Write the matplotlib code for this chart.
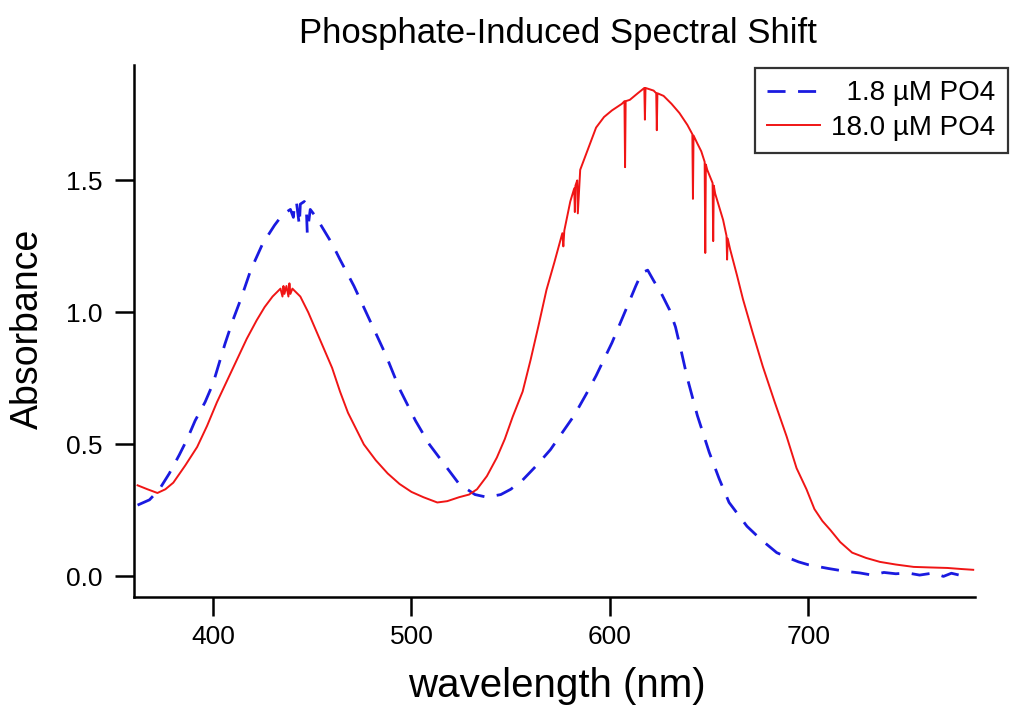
import matplotlib
matplotlib.use("Agg")
import matplotlib.pyplot as plt

# ---- data ----
wl_low = [362, 368, 373, 378, 383, 387, 391, 396, 400, 406, 410, 414, 419, 425,
          431, 435, 439, 440.5, 441, 442, 443.5, 444, 446, 447, 447.5, 449, 452,
          456, 460, 464, 471, 479, 487, 494, 502, 509, 517, 524, 532, 538, 545,
          550, 556, 563, 570, 576, 582, 588, 593, 601, 608, 613, 616, 619, 622,
          626, 630, 633, 636, 639, 644, 650, 655, 660, 665, 669, 676, 684, 690,
          695, 700, 710, 718, 726, 732, 738, 744, 750, 756, 763, 768, 772, 776,
          780]
abs_low = [0.27, 0.29, 0.33, 0.39, 0.46, 0.52, 0.59, 0.66, 0.73, 0.88, 0.97,
           1.05, 1.16, 1.26, 1.33, 1.37, 1.39, 1.36, 1.41, 1.42, 1.33, 1.41,
           1.42, 1.40, 1.30, 1.39, 1.36, 1.31, 1.26, 1.20, 1.10, 0.97, 0.84,
           0.71, 0.59, 0.50, 0.42, 0.35, 0.31, 0.30, 0.31, 0.33, 0.365, 0.42,
           0.48, 0.545, 0.61, 0.69, 0.76, 0.885, 1.01, 1.10, 1.15, 1.16, 1.12,
           1.07, 1.01, 0.945, 0.85, 0.75, 0.61, 0.47, 0.37, 0.28, 0.23, 0.19,
           0.14, 0.09, 0.07, 0.055, 0.044, 0.03, 0.02, 0.013, 0.005, 0.015,
           0.01, 0.013, 0.005, 0.013, 0.0, 0.012, 0.005, 0.01]

wl_high = [362, 367, 372, 376, 380, 386, 392, 397, 402, 407, 412, 417, 422, 426,
           430, 434, 435, 435.5, 436, 437, 438, 438.5, 439, 440, 444, 448, 452,
           456, 460, 464, 468, 472, 476, 482, 488, 494, 500, 506, 513, 518, 524,
           529, 533, 538, 543, 547, 551, 556, 560, 564, 568, 572, 576, 576.5,
           577, 580, 582, 582.3, 582.6, 583.5, 583.8, 585, 589, 593, 597, 601,
           606, 607.3, 607.6, 607.9, 610, 614, 617.3, 617.6, 617.9, 620, 622,
           623.3, 623.6, 623.9, 627, 631, 635, 639, 641.5, 641.8, 642.1, 644,
           646, 647.7, 648, 648.3, 649, 651.7, 652, 652.3, 653, 657, 658.7, 659,
           659.3, 660.5, 664, 667, 672, 677, 683, 689, 694, 699, 703, 707, 711,
           716, 722, 729, 736, 744, 753, 761, 770, 777, 783]
abs_high = [0.345, 0.33, 0.316, 0.33, 0.355, 0.42, 0.49, 0.57, 0.66, 0.74,
            0.82, 0.90, 0.97, 1.02, 1.06, 1.09, 1.06, 1.10, 1.07, 1.10, 1.06,
            1.11, 1.07, 1.09, 1.06, 1.00, 0.93, 0.86, 0.79, 0.70, 0.62, 0.56,
            0.50, 0.44, 0.39, 0.35, 0.32, 0.30, 0.28, 0.285, 0.30, 0.31, 0.33,
            0.38, 0.45, 0.52, 0.605, 0.70, 0.82, 0.95, 1.085, 1.19, 1.30, 1.25,
            1.31, 1.42, 1.47, 1.38, 1.48, 1.50, 1.375, 1.54, 1.62, 1.70, 1.74,
            1.765, 1.79, 1.80, 1.55, 1.80, 1.805, 1.83, 1.85, 1.73, 1.85, 1.845,
            1.84, 1.83, 1.69, 1.83, 1.82, 1.79, 1.755, 1.71, 1.675, 1.43, 1.67,
            1.64, 1.61, 1.57, 1.225, 1.56, 1.54, 1.49, 1.27, 1.48, 1.45, 1.35,
            1.29, 1.20, 1.28, 1.24, 1.14, 1.05, 0.92, 0.795, 0.66, 0.53, 0.41,
            0.33, 0.255, 0.21, 0.176, 0.13, 0.09, 0.07, 0.055, 0.045, 0.036,
            0.034, 0.032, 0.028, 0.025]

labels = ["  1.8 \u00b5M PO4", "18.0 \u00b5M PO4"]
x_ticks = [400, 500, 600, 700]
y_ticks = [0.0, 0.5, 1.0, 1.5]
y_ticklabels = ["0.0", "0.5", "1.0", "1.5"]

plt.rcParams['font.family'] = ['Liberation Sans', 'DejaVu Sans']

fig = plt.figure(figsize=(10.12, 7.09), dpi=100)
ax = fig.add_axes([134/1012, 1 - 597/709, (975-134)/1012, (597-65)/709])

ax.plot(wl_low, abs_low, color='#1a1ae0', lw=2.0, dashes=(6.5, 4.5),
        label=labels[0])
ax.plot(wl_high, abs_high, color='#f01515', lw=1.4, label=labels[1])

ax.set_xlim(360.2, 783.9)
ax.set_ylim(-0.078, 1.937)

for s in ['top', 'right']:
    ax.spines[s].set_visible(False)
for s in ['left', 'bottom']:
    ax.spines[s].set_linewidth(1.8)

ax.set_xticks(x_ticks)
ax.set_yticks(y_ticks)
ax.set_yticklabels(y_ticklabels)
ax.tick_params(direction='out', length=14, width=1.8, labelsize=19,
               colors='black')
ax.tick_params(axis='y', pad=9)
ax.tick_params(axis='x', pad=6)

fig.text(558/1012, 1 - 33/709, "Phosphate-Induced Spectral Shift",
         ha='center', va='center', fontsize=25)
fig.text(557/1012, 1 - 686/709, "wavelength (nm)", ha='center', va='center',
         fontsize=29)
fig.text(28/1012, 1 - 329/709, "Absorbance", ha='center', va='center',
         rotation=90, fontsize=27)

leg = fig.legend(loc='upper right', bbox_to_anchor=(1008/1012, 1 - 68/709),
                 fontsize=20, frameon=True, fancybox=False, edgecolor='black',
                 handlelength=1.9, borderpad=0.45, labelspacing=0.3,
                 handletextpad=0.4, borderaxespad=0)
leg.get_frame().set_linewidth(1.6)

fig.savefig("out.png", dpi=100)
